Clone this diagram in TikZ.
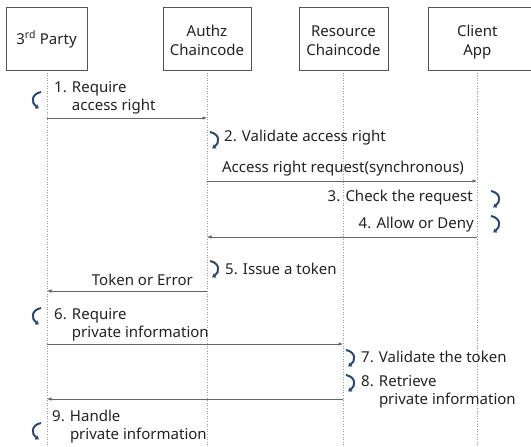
\documentclass[tikz,border=0pt]{standalone}
\usepackage{fontspec}
\setmainfont{Noto Sans}
\usetikzlibrary{arrows.meta}
\definecolor{txt}{HTML}{222222}
\definecolor{boxc}{HTML}{555555}
\definecolor{linec}{HTML}{666666}
\definecolor{lifec}{HTML}{9A9A9A}
\definecolor{curlc}{HTML}{2C4770}
\tikzset{
  actor/.style={draw=boxc, line width=0.6pt, fill=white, minimum height=63pt, inner sep=0pt, align=center, text=txt, font=\fontsize{15}{19}\selectfont},
  lifeline/.style={draw=lifec, line width=0.6pt, dotted},
  msg/.style={draw=linec, line width=0.6pt, -{Latex[length=4.5pt,width=3.5pt]}},
  lbl/.style={inner sep=0pt, text=txt, align=left, font=\fontsize{15}{18}\selectfont},
  curl/.style={draw=curlc, line width=2pt, -{Latex[length=3.5pt,width=5.5pt]}},
}
\newcommand\rcurlpath[2]{\draw[curl] ({#1-3},{#2-8}) .. controls ({#1+7},{#2-6}) and ({#1+7},{#2+3}) .. ({#1-1},{#2+8.5});}
\newcommand\lcurlpath[2]{\draw[curl] ({#1+3},{#2-8}) .. controls ({#1-7},{#2-6}) and ({#1-7},{#2+3}) .. ({#1+1},{#2+8.5});}
\newcommand\twoline[2]{\raisebox{-7.25pt}[0pt][0pt]{\begin{tabular}{@{}c@{}}#1\\#2\end{tabular}}}
\begin{document}
\begin{tikzpicture}[x=1pt,y=-1pt]
\useasboundingbox (0,0) rectangle (531,447);
% lifelines
\coordinate (pT) at (47,70);   \coordinate (pB) at (47,447);
\coordinate (aT) at (207,70);  \coordinate (aB) at (207,447);
\coordinate (rT) at (343,70);  \coordinate (rB) at (343,447);
\coordinate (cT) at (477,70);  \coordinate (cB) at (477,447);
\draw[lifeline] (pT) -- (pB);
\draw[lifeline] (aT) -- (aB);
\draw[lifeline] (rT) -- (rB);
\draw[lifeline] (cT) -- (cB);
% actors
\node[actor, minimum width=81pt] (party) at (46.5,38.5) {\raisebox{-5.7pt}[0pt][0pt]{3\textsuperscript{rd} Party}};
\node[actor, minimum width=88pt] (authz) at (207,38.5) {\twoline{Authz}{Chaincode}};
\node[actor, minimum width=89pt] (res) at (343.5,38.5) {\twoline{Resource}{Chaincode}};
\begin{scope}
\clip (0,0) rectangle (531,447);
\node[actor, minimum width=106pt, anchor=west] (client) at (428,38.5) {\hspace*{-8pt}\twoline{Client}{App}};
\end{scope}
% message endpoints
\coordinate (m1s) at (47,118);  \coordinate (m1e) at (207,118);
\coordinate (m2s) at (207,181); \coordinate (m2e) at (477,181);
\coordinate (m3s) at (477,237); \coordinate (m3e) at (207,237);
\coordinate (m4s) at (207,291); \coordinate (m4e) at (47,291);
\coordinate (m5s) at (47,344);  \coordinate (m5e) at (343,344);
\coordinate (m6s) at (343,399); \coordinate (m6e) at (47,399);
\draw[msg] (m1s) -- (m1e);
\draw[msg] (m2s) -- (m2e);
\draw[msg] (m3s) -- (m3e);
\draw[msg] (m4s) -- (m4e);
\draw[msg] (m5s) -- (m5e);
\draw[msg] (m6s) -- (m6e);
% labels
\node[lbl, anchor=west] (l1) at (54,98) {1. Require\\\phantom{1. }access right};
\node[lbl, anchor=west] (l2) at (224,138) {2. Validate access right};
\node[lbl, anchor=center] (lreq) at (343,169) {Access right request(synchronous)};
\node[lbl, anchor=east] (l3) at (473,198) {3. Check the request};
\node[lbl, anchor=east] (l4) at (474,225) {4. Allow or Deny};
\node[lbl, anchor=west] (l5) at (225,269) {5. Issue a token};
\node[lbl, anchor=east] (ltok) at (193,280) {Token or Error};
\node[lbl, anchor=west] (l6) at (54,325) {6. Require\\\phantom{6. }private information};
\node[lbl, anchor=west] (l7) at (361,357) {7. Validate the token};
\node[lbl, anchor=west] (l8) at (361,392) {8. Retrieve\\\phantom{8. }private information};
\node[lbl, anchor=west] (l9) at (52,427) {9. Handle\\\phantom{9. }private information};
% self-activity curls
\lcurlpath{38}{100}
\rcurlpath{213}{140}
\rcurlpath{494}{199}
\rcurlpath{494}{224}
\rcurlpath{213}{269}
\lcurlpath{38}{316}
\rcurlpath{349}{358}
\rcurlpath{349}{383}
\lcurlpath{38}{431}
\end{tikzpicture}
\end{document}
